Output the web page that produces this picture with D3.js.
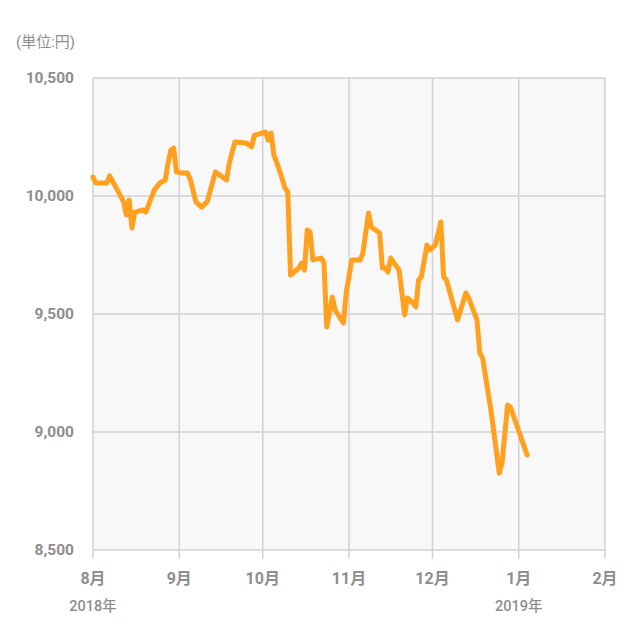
<!DOCTYPE html>
<html><head><meta charset="utf-8">
<script src="https://cdn.jsdelivr.net/npm/d3@7"></script>
<style>
body{margin:0;background:#fff;}
text{font-family:Roboto,"Noto Sans CJK JP",sans-serif;}
</style></head>
<body><svg id="c" width="640" height="640"></svg>
<script>
const dates = ["2018-08-01","2018-08-02","2018-08-06","2018-08-07","2018-08-09","2018-08-12","2018-08-13","2018-08-14","2018-08-15","2018-08-16","2018-08-19","2018-08-20","2018-08-23","2018-08-25","2018-08-27","2018-08-28","2018-08-29","2018-08-30","2018-08-31",
"2018-09-02","2018-09-04","2018-09-05","2018-09-07","2018-09-09","2018-09-11","2018-09-12","2018-09-14","2018-09-18","2018-09-19","2018-09-21","2018-09-25","2018-09-27","2018-09-28",
"2018-10-01","2018-10-02","2018-10-03","2018-10-04","2018-10-05","2018-10-07","2018-10-09","2018-10-10","2018-10-11","2018-10-14","2018-10-15","2018-10-16","2018-10-17","2018-10-18","2018-10-19","2018-10-22","2018-10-23","2018-10-24","2018-10-26","2018-10-27","2018-10-30","2018-10-31",
"2018-11-02","2018-11-05","2018-11-06","2018-11-08","2018-11-09","2018-11-12","2018-11-13","2018-11-14","2018-11-15","2018-11-16","2018-11-17","2018-11-19","2018-11-21","2018-11-22","2018-11-24","2018-11-25","2018-11-26","2018-11-27","2018-11-29","2018-11-30",
"2018-12-02","2018-12-04","2018-12-05","2018-12-06","2018-12-10","2018-12-13","2018-12-14","2018-12-17","2018-12-18","2018-12-19","2018-12-22","2018-12-25","2018-12-26","2018-12-28","2018-12-29","2019-01-04"];
const prices = [10080,10055,10055,10085,10042,9975,9920,9983,9864,9932,9941,9932,10025,10055,10068,10140,10195,10203,10102,
10097,10097,10068,9975,9953,9975,10017,10102,10068,10140,10229,10225,10208,10258,
10267,10271,10237,10267,10174,10110,10034,10017,9665,9695,9716,9686,9856,9848,9729,9737,9716,9445,9572,9517,9462,9589,
9729,9729,9758,9928,9869,9843,9695,9695,9678,9737,9720,9686,9496,9568,9547,9530,9644,9657,9792,9771,
9792,9890,9657,9644,9475,9589,9568,9475,9335,9314,9093,8826,8869,9114,9106,8903];
const yTicks = [8500,9000,9500,10000,10500];
const monthTicks = ["2018-08-01","2018-09-01","2018-10-01","2018-11-01","2018-12-01","2019-01-01","2019-02-01"];
const monthLabels = ["8月","9月","10月","11月","12月","1月","2月"];
const yearLabels = {"2018-08-01":"2018年","2019-01-01":"2019年"};
const unitLabel = "(単位:円)";

const parse = d3.timeParse("%Y-%m-%d");
const data = dates.map((d,i)=>({date:parse(d), v:prices[i]}));
const L=93, R=605, T=78, B=550;
const x = d3.scaleTime().domain([parse("2018-08-01"), parse("2019-02-01")]).range([L,R]);
const y = d3.scaleLinear().domain([8500,10500]).range([B,T]);
const svg = d3.select("#c");
const grid="#d2d2d2", lab="#8e8e8e";

svg.append("rect").attr("x",L).attr("y",T).attr("width",R-L).attr("height",B-T).attr("fill","#f8f8f8");

svg.append("g").selectAll("line").data(yTicks).join("line")
  .attr("x1",L).attr("x2",R).attr("y1",d=>y(d)).attr("y2",d=>y(d))
  .attr("stroke",grid).attr("stroke-width",1.5);
svg.append("g").selectAll("line").data(monthTicks.map(parse)).join("line")
  .attr("x1",d=>x(d)).attr("x2",d=>x(d)).attr("y1",T).attr("y2",B+9)
  .attr("stroke",grid).attr("stroke-width",1.5);

svg.append("g").selectAll("text").data(yTicks).join("text")
  .attr("x",74).attr("y",d=>y(d)).attr("dy","0.35em").attr("text-anchor","end")
  .attr("font-size",15.5).attr("font-weight","bold").attr("fill",lab)
  .text(d=>d3.format(",")(d));

svg.append("text").attr("x",16).attr("y",42).attr("dy","0.35em")
  .attr("font-size",15).attr("fill",lab).text(unitLabel);

svg.append("g").selectAll("text").data(monthTicks).join("text")
  .attr("x",d=>x(parse(d))).attr("y",578).attr("dy","0.35em").attr("text-anchor","middle")
  .attr("font-size",16).attr("font-weight","bold").attr("fill",lab)
  .text((d,i)=>monthLabels[i]);

svg.append("g").selectAll("text").data(Object.keys(yearLabels)).join("text")
  .attr("x",d=>x(parse(d))).attr("y",606).attr("dy","0.35em").attr("text-anchor","middle")
  .attr("font-size",14.5).attr("font-weight",500).attr("fill",lab)
  .text(d=>yearLabels[d]);

svg.append("path").datum(data)
  .attr("d", d3.line().x(d=>x(d.date)).y(d=>y(d.v)))
  .attr("fill","none").attr("stroke","#ffa01e").attr("stroke-width",5)
  .attr("stroke-linejoin","round").attr("stroke-linecap","round");
</script></body></html>
